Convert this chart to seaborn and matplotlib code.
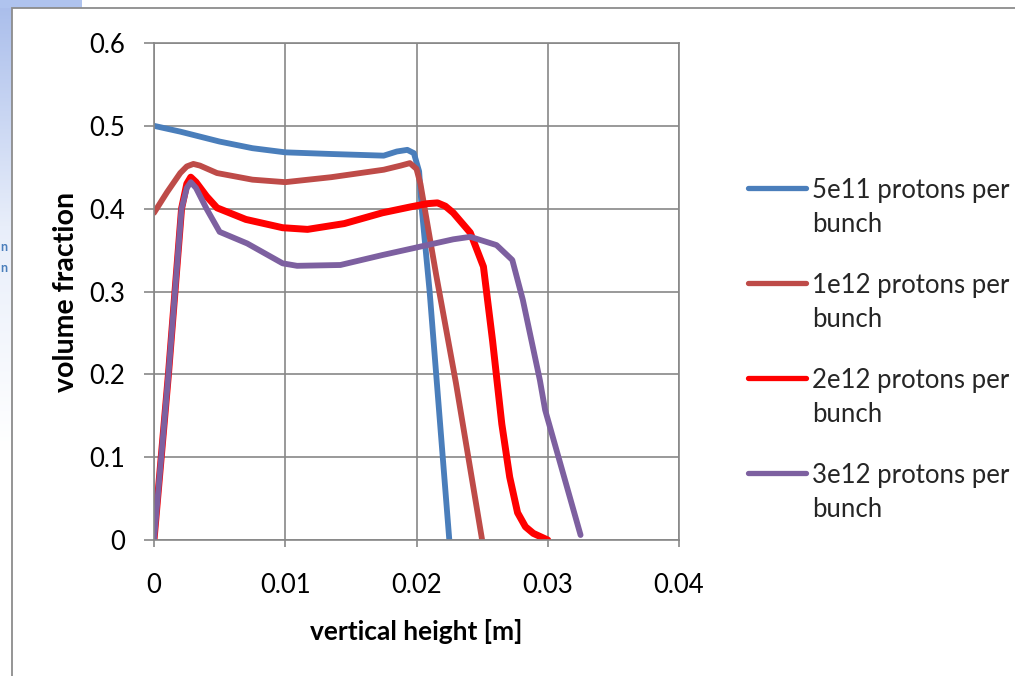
import numpy as np
import pandas as pd
import matplotlib
matplotlib.use("Agg")
import matplotlib.pyplot as plt
import seaborn as sns
from matplotlib.patches import Rectangle
from matplotlib.colors import LinearSegmentedColormap
from matplotlib.legend_handler import HandlerLine2D

# ---- data ----
x_5e11 = [0, 0.002, 0.005, 0.0075, 0.01, 0.0135, 0.0175, 0.0185, 0.0193, 0.0198, 0.0202,
          0.0204, 0.021, 0.022, 0.0225]
y_5e11 = [0.500, 0.493, 0.481, 0.473, 0.468, 0.466, 0.464, 0.469, 0.471, 0.467, 0.445,
          0.40, 0.30, 0.10, 0.0]

x_1e12 = [0, 0.001, 0.002, 0.0025, 0.003, 0.0035, 0.0048, 0.0075, 0.01, 0.0135, 0.0175,
          0.0188, 0.0195, 0.02, 0.0203, 0.0215, 0.023, 0.025]
y_1e12 = [0.395, 0.42, 0.443, 0.451, 0.454, 0.452, 0.443, 0.435, 0.432, 0.438, 0.447,
          0.452, 0.455, 0.448, 0.43, 0.32, 0.19, 0.0]

x_2e12 = [0, 0.0011, 0.0021, 0.0025, 0.0028, 0.0032, 0.004, 0.0048, 0.007, 0.0098,
          0.0117, 0.0145, 0.0174, 0.0195, 0.0208, 0.0216, 0.0222, 0.0228, 0.0241, 0.0251,
          0.0258, 0.0265, 0.0271, 0.0277, 0.0283, 0.0289, 0.030]
y_2e12 = [0.0, 0.20, 0.40, 0.43, 0.438, 0.432, 0.415, 0.401, 0.387, 0.377,
          0.375, 0.382, 0.395, 0.402, 0.406, 0.407, 0.403, 0.395, 0.371, 0.33,
          0.24, 0.14, 0.076, 0.033, 0.016, 0.008, 0.0]

x_3e12 = [0, 0.0011, 0.0021, 0.0025, 0.0028, 0.0032, 0.004, 0.005, 0.0071, 0.0098,
          0.0109, 0.0142, 0.0174, 0.0228, 0.0241, 0.0261, 0.0273, 0.0281, 0.0294, 0.0298,
          0.0325]
y_3e12 = [0.0, 0.20, 0.40, 0.425, 0.432, 0.425, 0.40, 0.372, 0.358, 0.334,
          0.331, 0.332, 0.344, 0.363, 0.366, 0.356, 0.338, 0.29, 0.193, 0.157,
          0.006]

series_labels = ["5e11 protons per\nbunch", "1e12 protons per\nbunch",
                 "2e12 protons per\nbunch", "3e12 protons per\nbunch"]
x_ticks = [0, 0.01, 0.02, 0.03, 0.04]
x_ticklabels = ["0", "0.01", "0.02", "0.03", "0.04"]
y_ticks = [0, 0.1, 0.2, 0.3, 0.4, 0.5, 0.6]
y_ticklabels = ["0", "0.1", "0.2", "0.3", "0.4", "0.5", "0.6"]
x_label = "vertical height [m]"
y_label = "volume fraction"

colors = ["#4A7EBB", "#BE4B48", "#FF0000", "#7D60A0"]
widths = [4.2, 4.2, 5.0, 4.2]

frames = []
for lab, xs, ys in zip(series_labels,
                       [x_5e11, x_1e12, x_2e12, x_3e12],
                       [y_5e11, y_1e12, y_2e12, y_3e12]):
    frames.append(pd.DataFrame({"x": xs, "y": ys, "series": lab}))
df = pd.concat(frames, ignore_index=True)

sns.set_theme(style="white")
plt.rcParams["font.family"] = ["Lato", "DejaVu Sans"]

W, H = 1015, 676
fig = plt.figure(figsize=(W / 100, H / 100), dpi=100)
fig.patch.set_facecolor("white")

# slide background pieces (light blue gradient at left, strip at top-left)
bg = fig.add_axes([0, 0, 12 / W, 1])
grad = np.linspace(0, 1, 256).reshape(-1, 1)
cmap = LinearSegmentedColormap.from_list("slide", ["#A9BDEB", "#E8EEFA", "#FFFFFF", "#FFFFFF"])
bg.imshow(grad, aspect="auto", cmap=cmap, extent=[0, 1, 0, 1], origin="upper")
bg.set_axis_off()
fig.patches.append(Rectangle((0, 1 - 8 / H), 82 / W, 8 / H, transform=fig.transFigure,
                             facecolor="#AFC3EE", edgecolor="none", zorder=0))
fig.patches.append(Rectangle((12 / W, -0.1), 1.2, 1.1 - 8 / H, transform=fig.transFigure,
                             facecolor="none", edgecolor="#8C8C8C", linewidth=1.3, zorder=1))
fig.text(0 / W, 1 - 247 / H, "n", color="#4A7EBB", fontsize=9, fontweight="bold",
         ha="left", va="center")
fig.text(0 / W, 1 - 268 / H, "n", color="#4A7EBB", fontsize=9, fontweight="bold",
         ha="left", va="center")

ax = fig.add_axes([154 / W, 1 - 540 / H, (679 - 154) / W, (540 - 43) / H])
ax.set_facecolor("white")

for lab, col, lw in zip(series_labels, colors, widths):
    sub = df[df["series"] == lab]
    sns.lineplot(data=sub, x="x", y="y", sort=False, estimator=None, color=col,
                 linewidth=lw, label=lab, ax=ax, solid_capstyle="round",
                 solid_joinstyle="round")

ax.set_xlim(0, 0.04)
ax.set_ylim(0, 0.6)
ax.set_xticks(x_ticks)
ax.set_xticklabels(x_ticklabels)
ax.set_yticks(y_ticks)
ax.set_yticklabels(y_ticklabels)
ax.grid(True, color="#878787", linewidth=1.2)
ax.set_axisbelow(True)
for s in ax.spines.values():
    s.set_color("#878787")
    s.set_linewidth(1.2)
ax.tick_params(axis="y", which="major", direction="out", length=7, width=1.2,
               color="#878787", pad=14, labelsize=18.5, labelcolor="black", left=True)
ax.tick_params(axis="x", which="major", direction="out", length=5, width=1.2,
               color="#878787", pad=19, labelsize=18.5, labelcolor="black", bottom=True)

ax.set_xlabel(x_label, fontsize=19, fontweight="bold", color="black")
ax.set_ylabel(y_label, fontsize=20.5, fontweight="bold", color="black")
ax.xaxis.set_label_coords(0.5, -(619 - 540) / 497)
ax.yaxis.set_label_coords(-(154 - 79) / 525, 0.5)


class FirstLineHandler(HandlerLine2D):
    def __init__(self, shift, lw, **kw):
        super().__init__(**kw)
        self.shift = shift
        self.lw = lw

    def create_artists(self, legend, orig_handle, xdescent, ydescent, width, height,
                       fontsize, trans):
        arts = super().create_artists(legend, orig_handle, xdescent, ydescent, width,
                                      height, fontsize, trans)
        for a in arts:
            a.set_ydata(np.asarray(a.get_ydata(), dtype=float) + self.shift)
            a.set_linewidth(self.lw)
            a.set_solid_capstyle("round")
        return arts


handles, labels = ax.get_legend_handles_labels()
hmap = {h: FirstLineHandler(shift=15, lw=3.8) for h in handles}
leg = ax.legend(handles, labels, loc="upper left", bbox_to_anchor=(748 / W, 1 - 178 / H),
                bbox_transform=fig.transFigure, frameon=False, fontsize=18.5,
                handlelength=2.27, handletextpad=0.24, borderpad=0, borderaxespad=0,
                labelspacing=1.39, handler_map=hmap)
for t in leg.get_texts():
    t.set_linespacing(1.46)

fig.savefig("out.png", dpi=100)
